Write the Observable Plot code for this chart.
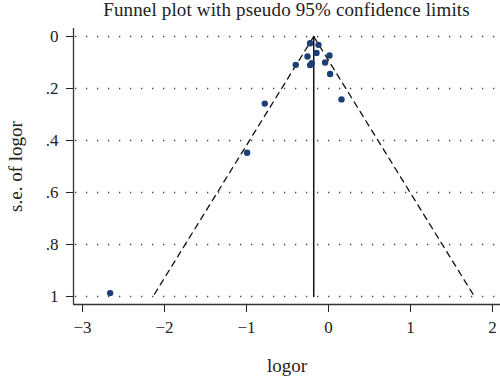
<!DOCTYPE html>
<html><head><meta charset="utf-8">
<script src="https://cdn.jsdelivr.net/npm/d3@7"></script>
<script src="https://cdn.jsdelivr.net/npm/@observablehq/plot@0.6"></script>
<style>
body{margin:0;background:#fff;}
#title{height:28px;line-height:20px;padding-left:73px;width:427px;text-align:center;font-family:"Liberation Serif",serif;font-size:19px;letter-spacing:0.15px;color:#222;white-space:nowrap;}
</style></head><body>
<div id="title">Funnel plot with pseudo 95% confidence limits</div>
<div id="chart"></div>
<script>
// study estimates (log odds ratio) and their standard errors
const logor = [-0.224, -0.122, -0.146, -0.256, 0.012, -0.399, -0.204, -0.224, -0.041, 0.02, 0.159, -0.777, -0.993, -2.663];
const seLogor = [0.026, 0.032, 0.063, 0.077, 0.073, 0.109, 0.103, 0.110, 0.100, 0.144, 0.242, 0.258, 0.447, 0.987];
// pooled estimate and pseudo 95% limits read at se = 0 and se = 1
const pooled = -0.18;
const limitSe = [0, 1];
const lowerLimit = [-0.18, -2.14];
const upperLimit = [-0.18, 1.78];
const xTicks = [-3, -2, -1, 0, 1, 2];
const yTicks = [0, 0.2, 0.4, 0.6, 0.8, 1];
const yTickLabels = ["0", ".2", ".4", ".6", ".8", "1"];
const xDomain = [-3.11, 2.098];
const yDomain = [-0.0308, 1.0308];

const points = logor.map((v, i) => ({logor: v, se: seLogor[i]}));
const lower = limitSe.map((s, i) => ({se: s, logor: lowerLimit[i]}));
const upper = limitSe.map((s, i) => ({se: s, logor: upperLimit[i]}));
const pooledLine = limitSe.map(s => ({se: s, logor: pooled}));

const chart = Plot.plot({
  width: 500,
  height: 350,
  marginLeft: 73,
  marginRight: 0,
  marginTop: 0,
  marginBottom: 74,
  style: {fontFamily: "'Liberation Serif', serif", fontSize: "17px", color: "#222", background: "#fff"},
  x: {domain: xDomain, ticks: xTicks, tickSize: 8, tickPadding: 8, tickFormat: d => d3.format("d")(d), label: null},
  y: {domain: yDomain, reverse: true, ticks: yTicks, tickSize: 7, tickPadding: 8,
      tickFormat: d => yTickLabels[yTicks.indexOf(d)], label: null},
  marks: [
    Plot.ruleY(yTicks, {y: d => d, stroke: "#444", strokeWidth: 1.3, strokeDasharray: "1.3,9.7", strokeDashoffset: 9}),
    Plot.line(lower, {x: "logor", y: "se", stroke: "#111", strokeWidth: 1.3, strokeDasharray: "6,5"}),
    Plot.line(upper, {x: "logor", y: "se", stroke: "#111", strokeWidth: 1.3, strokeDasharray: "6,5"}),
    Plot.line(pooledLine, {x: "logor", y: "se", stroke: "#111", strokeWidth: 1.5}),
    Plot.dot(points, {x: "logor", y: "se", r: 3.2, fill: "#1d3f78", stroke: "none"}),
    Plot.ruleX([xDomain[0]], {stroke: "#333", strokeWidth: 1.3}),
    Plot.ruleY([yDomain[1]], {stroke: "#333", strokeWidth: 1.3}),
    Plot.text(["logor"], {frameAnchor: "bottom", lineAnchor: "middle", textAnchor: "middle", dy: 61, fontSize: 19, fill: "#222"}),
    Plot.text(["s.e. of logor"], {frameAnchor: "left", lineAnchor: "middle", textAnchor: "middle", rotate: -90, dx: -58, fontSize: 19, fill: "#222"})
  ]
});
document.getElementById("chart").appendChild(chart);
</script>
</body></html>
